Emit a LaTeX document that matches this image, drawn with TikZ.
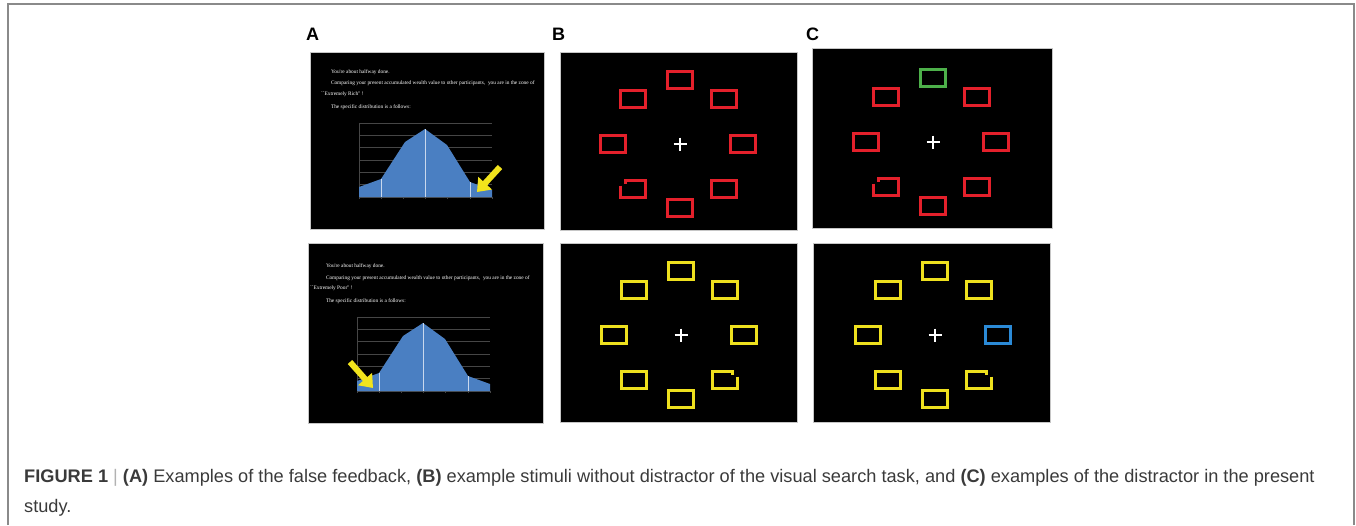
\documentclass[tikz,border=0pt]{standalone}
\usepackage{fontspec}
\setmainfont{Liberation Sans}
\newfontfamily\slidefont{Liberation Serif}
\usetikzlibrary{arrows.meta,calc,positioning}
\definecolor{frameGray}{HTML}{8A8A8A}
\definecolor{capGray}{HTML}{3A3A3A}
\definecolor{barBlue}{HTML}{4A7FC2}
\definecolor{arrowYellow}{HTML}{F2E41C}
\definecolor{stimRed}{HTML}{E4202B}
\definecolor{stimYellow}{HTML}{EEE01E}
\definecolor{stimGreen}{HTML}{4DB04A}
\definecolor{stimBlue}{HTML}{2B8AD6}
\tikzset{
	figframe/.style={draw=frameGray,line width=1.4pt},
	panellabel/.style={anchor=west,inner sep=0pt,font=\fontsize{18}{18}\selectfont\bfseries},
	screen/.style={draw=gray!45,fill=black,inner sep=0pt,anchor=center},
	slideline/.style={anchor=base west,inner sep=0pt,text=white,font=\fontsize{5.35}{6}\slidefont},
	gridline/.style={draw=gray!55!black,line width=0.5pt},
	fbarrow/.style={draw=arrowYellow,line width=6pt,-{Triangle[length=12pt,width=18pt]}},
	stimbox/.style={draw=#1,line width=2.7pt,minimum width=25.5pt,minimum height=16.5pt,inner sep=0pt},
	stimline/.style={line width=2.7pt},
	fixcross/.style={draw=white,line width=1.8pt},
}
\begin{document}
\begin{tikzpicture}[x=1pt,y=-1pt]
	\useasboundingbox (0,0) rectangle (1356,525);
	\draw[figframe] (8,525) -- (8,4) -- (1354,4) -- (1354,525);
	
	% panel letters
	\node (labA) at (306,34.5) [panellabel] {A};
	\node (labB) at (552,34.5) [panellabel] {B};
	\node (labC) at (806,34.5) [panellabel] {C};
	
	% feedback screens
	\node (fbRich) at (427,140.5) [screen,minimum width=234pt,minimum height=177pt] {};
	\node (fbPoor) at (425.5,333) [screen,minimum width=235pt,minimum height=180pt] {};
	% search displays
	\node (srchB) at (678.5,141) [screen,minimum width=237pt,minimum height=178pt] {};
	\node (srchC) at (932,138) [screen,minimum width=240pt,minimum height=180pt] {};
	\node (srchBb) at (678.5,332.5) [screen,minimum width=237pt,minimum height=179pt] {};
	\node (srchCb) at (931.5,332.5) [screen,minimum width=237pt,minimum height=179pt] {};
	
	\node (richL1) at ($(fbRich.north west)+(21,22)$) [slideline] {You're about halfway done.};
	\node (richL2) at ($(fbRich.north west)+(21,33)$) [slideline] {Comparing your present accumulated wealth value to other participants,\ \ you are in the zone of};
	\node (richL3) at ($(fbRich.north west)+(11,44)$) [slideline] {``Extremely Rich'' !};
	\node (richL4) at ($(fbRich.north west)+(21,57)$) [slideline] {The specific distribution is a follows:};
	
	\node (poorL1) at ($(fbPoor.north west)+(18,25)$) [slideline] {You're about halfway done.};
	\node (poorL2) at ($(fbPoor.north west)+(18,37)$) [slideline] {Comparing your present accumulated wealth value to other participants,\ \ you are in the zone of};
	\node (poorL3) at ($(fbPoor.north west)+(2,47)$) [slideline] {``Extremely Poor'' !};
	\node (poorL4) at ($(fbPoor.north west)+(18,60)$) [slideline] {The specific distribution is a follows:};
	
	% distribution charts
	\foreach \ox/\oy in {359/197,357/391}{
		\begin{scope}[shift={(\ox,\oy)}]
			\foreach \gy in {-74,-61.7,-49.3,-37,-24.7,-12.3}
				\draw[gridline] (0,\gy) -- (133,\gy);
			\draw[gridline] (0,-74) -- (0,0) -- (133,0);
			\foreach \tx in {0,22.2,44.3,66.5,88.7,110.8,133}
				\draw[gridline] (\tx,0) -- (\tx,2);
			\fill[barBlue] (0,0) -- (0,-10) -- (22,-18) -- (46,-55) -- (66,-68) -- (88,-52) -- (111,-15) -- (133,-7) -- (133,0) -- cycle;
			\draw[white!70!barBlue,line width=0.6pt] (22,0) -- (22,-18) (66,0) -- (66,-68) (111,0) -- (111,-15);
		\end{scope}
	}
	
	\coordinate (richTail) at (500,167);
	\coordinate (richTip) at (477,192);
	\draw[fbarrow] (richTail) -- (richTip);
	\coordinate (poorTail) at (350,362);
	\coordinate (poorTip) at (373,388);
	\draw[fbarrow] (poorTail) -- (poorTip);
	
	% B, upper: all red
	\coordinate (crossB) at (680,144);
	\draw[fixcross] ($(crossB)+(-6.5,0)$) -- ($(crossB)+(6.5,0)$) ($(crossB)+(0,-6.5)$) -- ($(crossB)+(0,6.5)$);
	\foreach \nm/\dx/\dy/\col in {T/0/-64/stimRed,UL/-47/-45/stimRed,UR/44/-45/stimRed,L/-67/0/stimRed,R/63/0/stimRed,LR/44/45/stimRed,B/0/64/stimRed}
		\node (B\nm) at ($(crossB)+(\dx,\dy)$) [stimbox=\col] {};
	\draw[stimRed,stimline] ($(crossB)+(-47,45)$) ++(-12.75,-3.5) -- ++(0,11.75) -- ++(25.5,0) -- ++(0,-16.5) -- ++(-20,0) -- ++(0,3.5);
	
	% C, upper: green distractor on top
	\coordinate (crossC) at (933,142);
	\draw[fixcross] ($(crossC)+(-6.5,0)$) -- ($(crossC)+(6.5,0)$) ($(crossC)+(0,-6.5)$) -- ($(crossC)+(0,6.5)$);
	\foreach \nm/\dx/\dy/\col in {T/0/-64/stimGreen,UL/-47/-45/stimRed,UR/44/-45/stimRed,L/-67/0/stimRed,R/63/0/stimRed,LR/44/45/stimRed,B/0/64/stimRed}
		\node (C\nm) at ($(crossC)+(\dx,\dy)$) [stimbox=\col] {};
	\draw[stimRed,stimline] ($(crossC)+(-47,45)$) ++(-12.75,-3.5) -- ++(0,11.75) -- ++(25.5,0) -- ++(0,-16.5) -- ++(-20,0) -- ++(0,3.5);
	
	% B, lower: all yellow
	\coordinate (crossBb) at (681,335);
	\draw[fixcross] ($(crossBb)+(-6.5,0)$) -- ($(crossBb)+(6.5,0)$) ($(crossBb)+(0,-6.5)$) -- ($(crossBb)+(0,6.5)$);
	\foreach \nm/\dx/\dy/\col in {T/0/-64/stimYellow,UL/-47/-45/stimYellow,UR/44/-45/stimYellow,L/-67/0/stimYellow,R/63/0/stimYellow,LL/-47/45/stimYellow,B/0/64/stimYellow}
		\node (Bb\nm) at ($(crossBb)+(\dx,\dy)$) [stimbox=\col] {};
	\draw[stimYellow,stimline] ($(crossBb)+(44,45)$) ++(12.75,-3.5) -- ++(0,11.75) -- ++(-25.5,0) -- ++(0,-16.5) -- ++(20,0) -- ++(0,3.5);
	
	% C, lower: blue distractor on the right
	\coordinate (crossCb) at (935,335);
	\draw[fixcross] ($(crossCb)+(-6.5,0)$) -- ($(crossCb)+(6.5,0)$) ($(crossCb)+(0,-6.5)$) -- ($(crossCb)+(0,6.5)$);
	\foreach \nm/\dx/\dy/\col in {T/0/-64/stimYellow,UL/-47/-45/stimYellow,UR/44/-45/stimYellow,L/-67/0/stimYellow,R/63/0/stimBlue,LL/-47/45/stimYellow,B/0/64/stimYellow}
		\node (Cb\nm) at ($(crossCb)+(\dx,\dy)$) [stimbox=\col] {};
	\draw[stimYellow,stimline] ($(crossCb)+(44,45)$) ++(12.75,-3.5) -- ++(0,11.75) -- ++(-25.5,0) -- ++(0,-16.5) -- ++(20,0) -- ++(0,3.5);
	
	% caption
	\node (caption) at (24,469) [anchor=north west,inner sep=0pt,align=left,text=capGray,font=\fontsize{18.2}{30}\selectfont]
		{\textbf{FIGURE 1} {\color{gray!60}|} \textbf{(A)} Examples of the false feedback, \textbf{(B)} example stimuli without distractor of the visual search task, and \textbf{(C)} examples of the distractor in the present\\ study.};
\end{tikzpicture}
\end{document}
